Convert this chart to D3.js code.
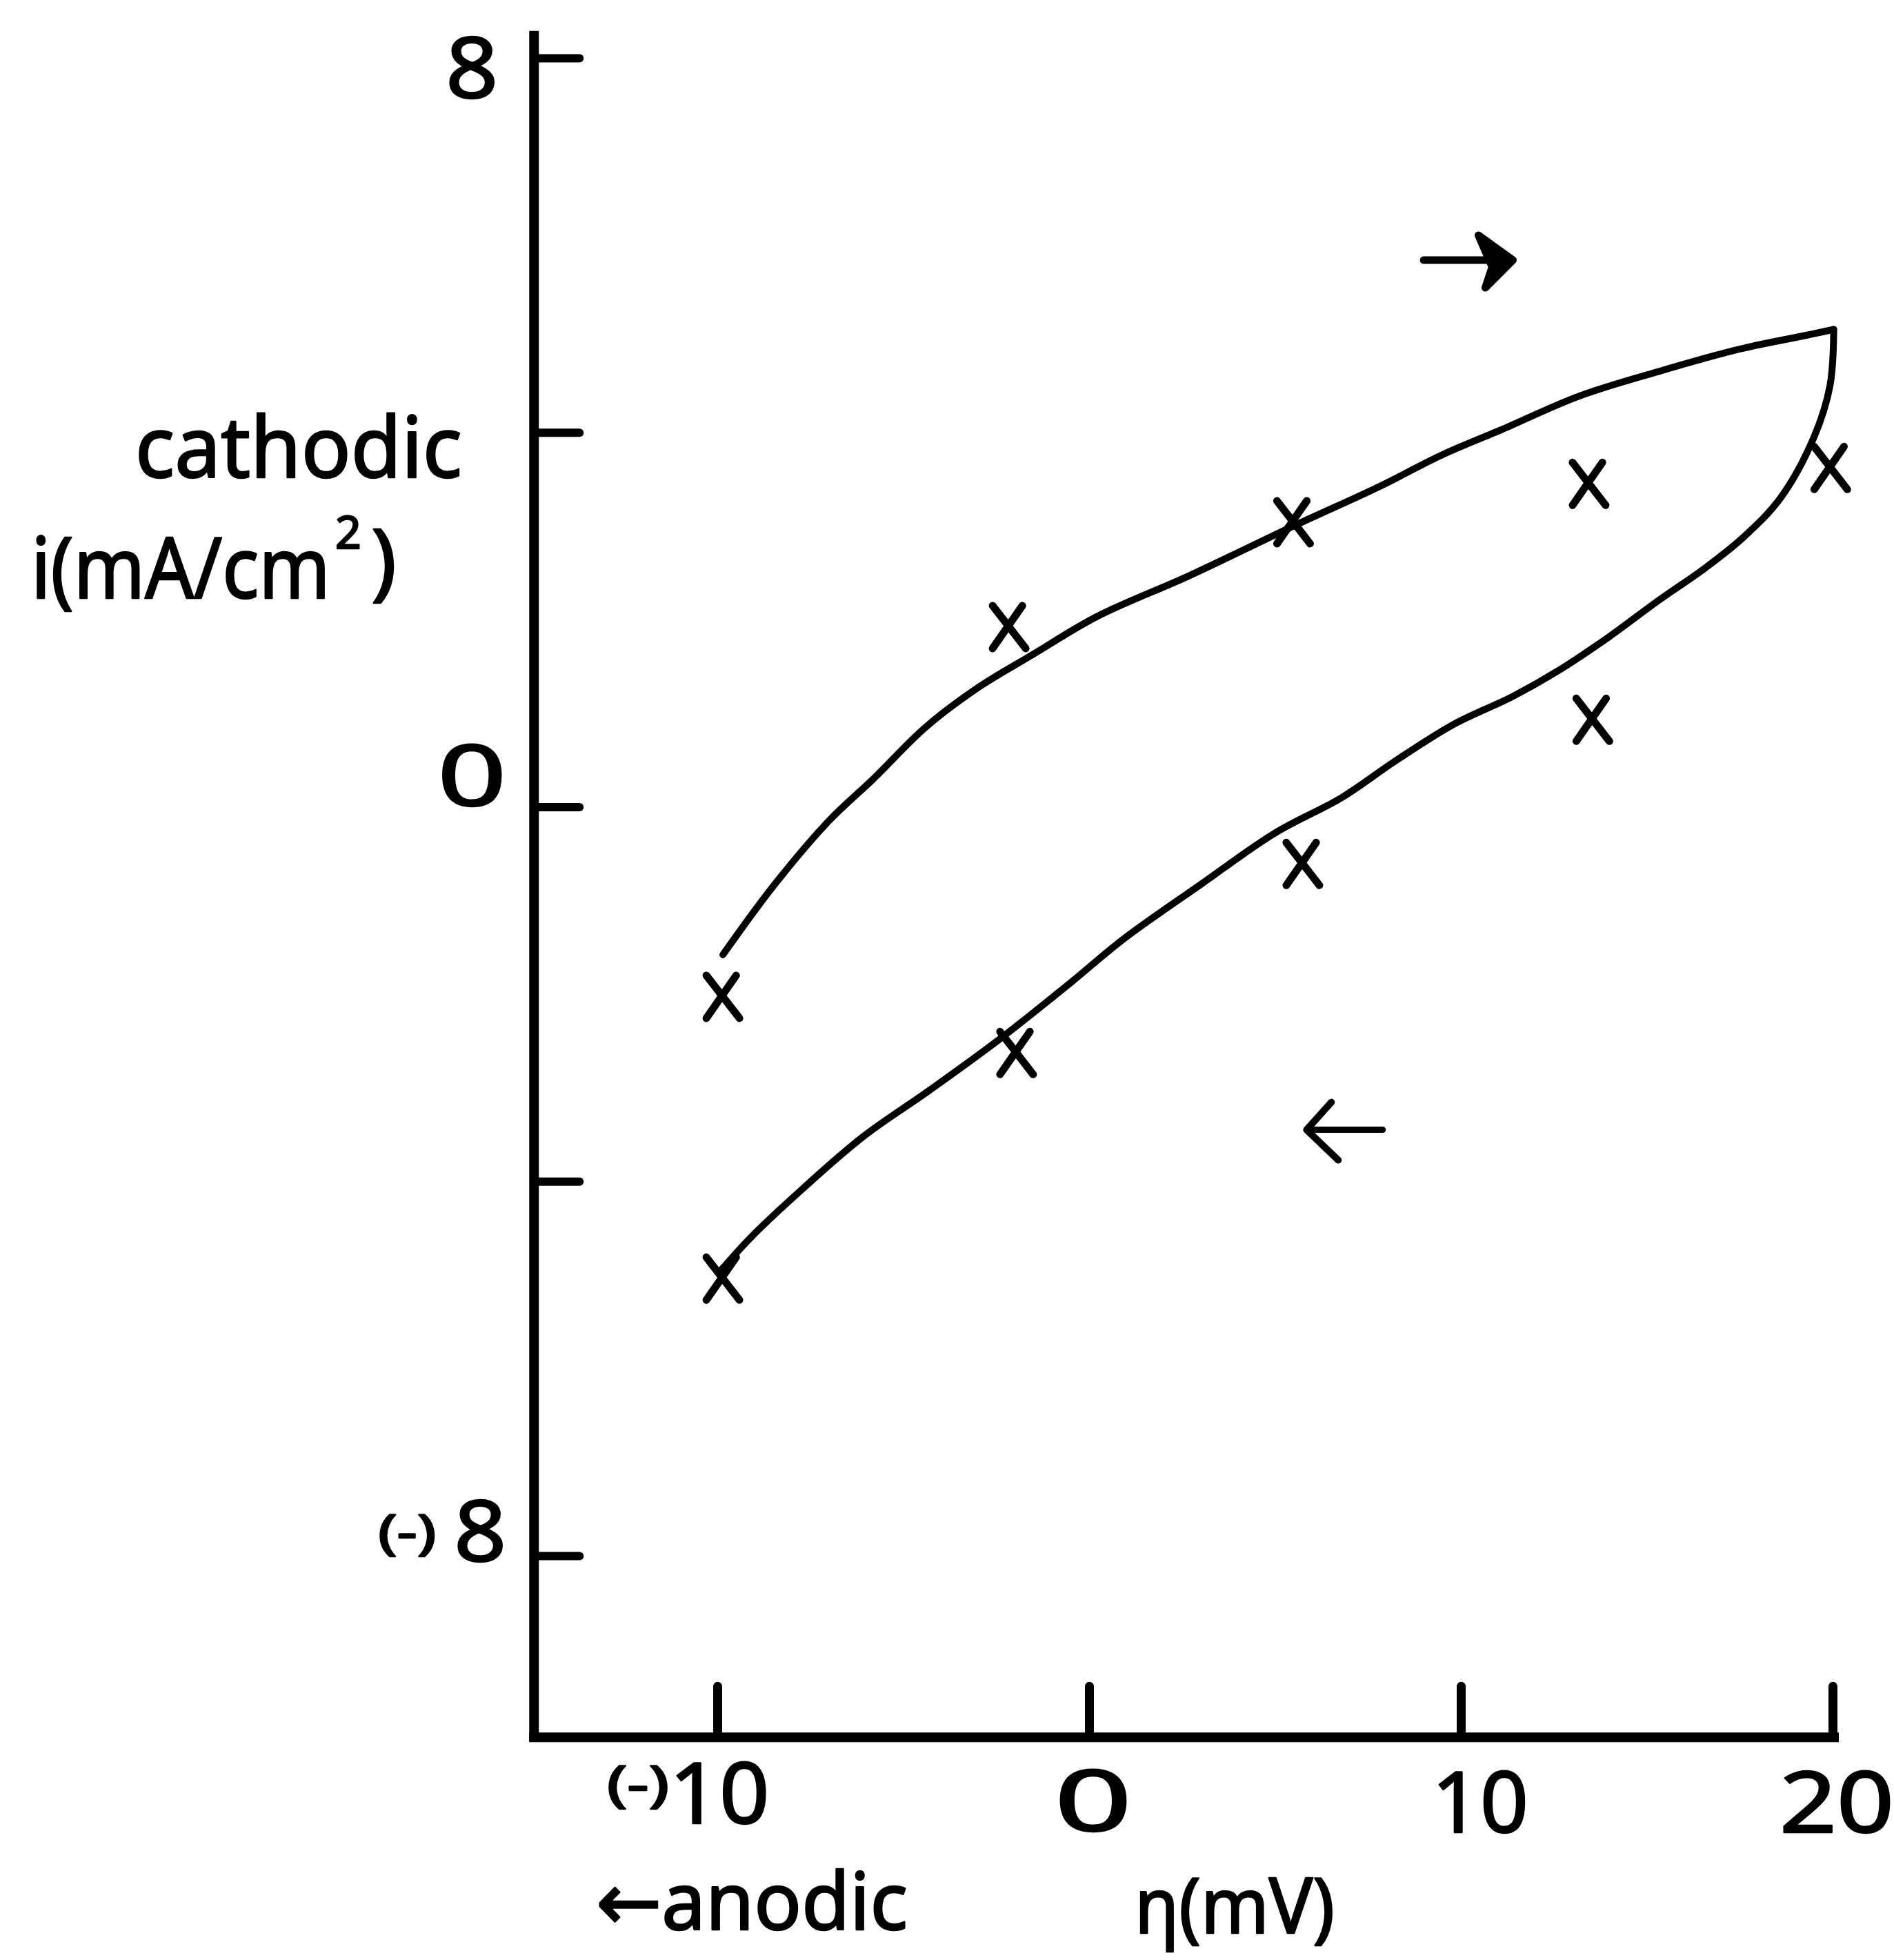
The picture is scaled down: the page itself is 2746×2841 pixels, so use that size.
<!DOCTYPE html>
<html>
<head>
<meta charset="utf-8">
<script src="https://cdn.jsdelivr.net/npm/d3@7"></script>
<style>
  html, body { margin: 0; padding: 0; background: #fff; }
  svg { display: block; }
  text {
    font-family: "Noto Sans", "DejaVu Sans", sans-serif;
    fill: #000;
    stroke: #000;
    stroke-width: 2.5;
    stroke-linejoin: round;
  }
</style>
</head>
<body>
<script>
// Current density i (mA/cm²) against overpotential η (mV), one full sweep.
// Forward sweep (towards cathodic), traced curve
const forwardCurve = [
  [-9.85, -1.58], [-8.5, -0.85], [-7.0, -0.15], [-5.8, 0.3], [-4.4, 0.85],
  [-3.0, 1.27], [-1.5, 1.63], [0.2, 2.03], [2.7, 2.47], [5.5, 3.0],
  [7.8, 3.42], [9.5, 3.76], [11.1, 4.03], [13.2, 4.39], [15.4, 4.66],
  [17.5, 4.89], [19.2, 5.03], [20.03, 5.10]
];
// Reverse sweep (back towards anodic), traced curve
const reverseCurve = [
  [20.03, 5.10], [19.93, 4.5], [19.5, 3.95], [18.6, 3.3], [17.6, 2.88],
  [16.6, 2.56], [15.3, 2.2], [14.0, 1.82], [12.6, 1.45], [11.4, 1.18],
  [9.8, 0.88], [8.2, 0.48], [6.8, 0.1], [5.0, -0.28], [3.0, -0.83],
  [0.9, -1.42], [-0.5, -1.88], [-2.4, -2.48], [-4.3, -3.03], [-6.1, -3.53],
  [-7.9, -4.15], [-9.1, -4.6], [-9.9, -4.95]
];
// Measured points
const forwardPoints = [[-9.85, -2.03], [-2.15, 1.92], [5.5, 3.04], [13.45, 3.45], [19.95, 3.62]];
const reversePoints = [[13.55, 0.93], [5.75, -0.61], [-1.95, -2.63], [-9.85, -5.04]];

// Axis ticks and their labels
const xTicks = [-10, 0, 10, 20];
const xTickLabels = ["(-)10", "0", "10", "20"];
const yTicks = [-8, -4, 0, 4, 8];
const yTickLabels = ["(-)8", "", "0", "", "8"];

// Sweep-direction arrows: η from -> to, at current i
const sweepArrows = [
  { from: 9.0, to: 11.4, i: 5.84, head: "solid" },
  { from: 7.9, to: 5.85, i: -3.45, head: "open" }
];

const W = 2746, H = 2841;
const x = d3.scaleLinear().domain([-10, 20]).range([1040, 2657]);
const y = d3.scaleLinear().domain([-8, 8]).range([2255, 84]);

// where the two axis lines sit, in data units
const AXIS_ETA = -14.93;   // vertical axis
const AXIS_I = -9.94;      // horizontal axis
const AXIS_I_TOP = 8.29;   // top end of vertical axis
const X0 = x(AXIS_ETA), Y0 = y(AXIS_I);

const svg = d3.select("body").append("svg")
  .attr("width", W).attr("height", H)
  .attr("viewBox", `0 0 ${W} ${H}`);

svg.append("rect").attr("width", W).attr("height", H).attr("fill", "#fff");

// ticks (pointing into the plot)
svg.append("g")
  .attr("transform", `translate(${X0},0)`)
  .call(d3.axisRight(y).tickValues(yTicks).tickSize(66).tickFormat(() => ""))
  .call(g => g.select(".domain").remove())
  .call(g => g.selectAll(".tick line").attr("stroke", "#000").attr("stroke-width", 12).attr("stroke-linecap", "round"));

svg.append("g")
  .attr("transform", `translate(0,${Y0})`)
  .call(d3.axisTop(x).tickValues(xTicks).tickSize(74).tickFormat(() => ""))
  .call(g => g.select(".domain").remove())
  .call(g => g.selectAll(".tick line").attr("stroke", "#000").attr("stroke-width", 13).attr("stroke-linecap", "round"));

// axis lines
svg.append("line")
  .attr("x1", X0).attr("x2", X0)
  .attr("y1", y(AXIS_I_TOP)).attr("y2", Y0 + 6)
  .attr("stroke", "#000").attr("stroke-width", 14);
svg.append("line")
  .attr("x1", X0 - 7).attr("x2", x(20) + 9)
  .attr("y1", Y0).attr("y2", Y0)
  .attr("stroke", "#000").attr("stroke-width", 14);

// tick labels
function label(txt, cx, baseline, size, width) {
  const t = svg.append("text")
    .attr("x", cx).attr("y", baseline)
    .attr("text-anchor", "middle")
    .attr("font-size", size)
    .text(txt);
  if (width) t.attr("textLength", width).attr("lengthAdjust", "spacingAndGlyphs");
  return t;
}
function prefixed(lbl) {
  const m = /^\(-\)(.*)$/.exec(lbl);
  return m ? { prefix: "(-)", main: m[1] } : { prefix: "", main: lbl };
}

// y labels: nudges of the hand lettering relative to each tick
const yLabelLayout = {
  "8":    { dx: -90, dy: 58, w: 76 },
  "0":    { dx: -90, dy: -2, w: 100 },
  "(-)8": { dx: -78, dy: 8,  w: 76 }
};
yTicks.forEach((v, k) => {
  const lbl = yTickLabels[k];
  if (!lbl) return;
  const p = prefixed(lbl), L = yLabelLayout[lbl];
  const cx = X0 + L.dx, base = y(v) + L.dy;
  label(p.main, cx, base, 122, L.w);
  if (p.prefix) label(p.prefix, cx - 106, base - 18, 70, 84);
});

// x labels
const xLabelLayout = [
  { dx: 3,  dy: 125, w: 145 },
  { dx: 6,  dy: 136, w: 112 },
  { dx: 28, dy: 138, w: 140 },
  { dx: 6,  dy: 138, w: 166 }
];
xTicks.forEach((v, k) => {
  const p = prefixed(xTickLabels[k]), L = xLabelLayout[k];
  const cx = x(v) + L.dx, base = Y0 + L.dy;
  label(p.main, cx, base, 122, L.w);
  if (p.prefix) label(p.prefix, cx - 118, base - 32, 71, 90);
});

// axis titles
svg.append("text").attr("x", 196).attr("y", 692).attr("font-size", 123)
  .attr("textLength", 474).attr("lengthAdjust", "spacingAndGlyphs").text("cathodic");

// i(mA/cm²): condensed body, raised 2, closing bracket
svg.append("text")
  .attr("transform", "translate(45,867) scale(0.9,1)")
  .attr("font-size", 123)
  .text("i(mA/cm");
svg.append("text").attr("x", 486).attr("y", 795).attr("font-size", 66).text("2");
svg.append("text").attr("x", 538).attr("y", 855).attr("font-size", 123).text(")");

svg.append("text").attr("x", 864).attr("y", 2797).attr("font-size", 116)
  .attr("textLength", 452).attr("lengthAdjust", "spacingAndGlyphs").text("←anodic");
svg.append("text").attr("x", 1645).attr("y", 2802).attr("font-size", 112)
  .attr("textLength", 290).attr("lengthAdjust", "spacingAndGlyphs").text("η(mV)");

// sweep curves
const line = d3.line().x(d => x(d[0])).y(d => y(d[1])).curve(d3.curveCatmullRom.alpha(0.5));
svg.selectAll("path.sweep")
  .data([forwardCurve, reverseCurve])
  .join("path")
  .attr("class", "sweep")
  .attr("d", line)
  .attr("fill", "none")
  .attr("stroke", "#000")
  .attr("stroke-width", 10)
  .attr("stroke-linecap", "round")
  .attr("stroke-linejoin", "round");

// x markers
const MW = 24, MH = 31;
svg.selectAll("path.pt")
  .data(forwardPoints.concat(reversePoints))
  .join("path")
  .attr("class", "pt")
  .attr("d", d => {
    const cx = x(d[0]), cy = y(d[1]);
    return `M${cx - MW},${cy - MH}L${cx + MW},${cy + MH}M${cx + MW * 0.8},${cy - MH}L${cx - MW},${cy + MH}`;
  })
  .attr("fill", "none")
  .attr("stroke", "#000")
  .attr("stroke-width", 11)
  .attr("stroke-linecap", "round");

// direction arrows
sweepArrows.forEach(a => {
  const x1 = x(a.from), x2 = x(a.to), yy = y(a.i);
  const dir = Math.sign(x2 - x1);
  svg.append("line").attr("x1", x1).attr("x2", x2 - dir * 4).attr("y1", yy).attr("y2", yy)
    .attr("stroke", "#000").attr("stroke-width", a.head === "solid" ? 11 : 9).attr("stroke-linecap", "round");
  if (a.head === "solid") {
    svg.append("path")
      .attr("d", `M${x2 - dir * 50},${yy - 36}L${x2},${yy}L${x2 - dir * 40},${yy + 40}L${x2 - dir * 30},${yy + 10}Z`)
      .attr("fill", "#000").attr("stroke", "#000").attr("stroke-width", 11).attr("stroke-linejoin", "round");
  } else {
    svg.append("path")
      .attr("d", `M${x2 - dir * 36},${yy - 40}L${x2},${yy}L${x2 - dir * 46},${yy + 44}`)
      .attr("fill", "none").attr("stroke", "#000").attr("stroke-width", 10)
      .attr("stroke-linecap", "round").attr("stroke-linejoin", "round");
  }
});
</script>
</body>
</html>
